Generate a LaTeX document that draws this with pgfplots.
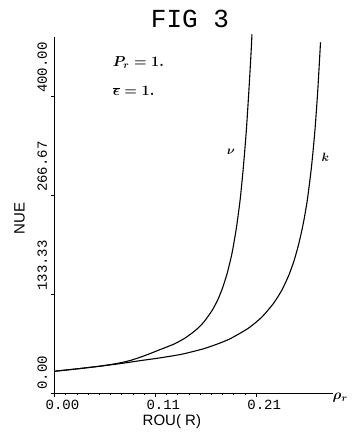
\documentclass[border=0pt]{standalone}
\usepackage{pgfplots}
\pgfplotsset{compat=1.18}
\usepackage{fontspec}
\setmainfont{Liberation Sans}
\setmonofont{Liberation Mono}
\begin{document}
\begin{tikzpicture}
\begin{axis}[
  scale only axis,
  width=278.5pt, height=356.3pt,
  xmin=0, xmax=0.29, ymin=0, ymax=480,
  axis lines=left,
  axis line style={-, line width=0.8pt},
  clip=false,
  enlargelimits=false,
  xtick={0,0.105,0.21},
  xticklabels={0.00,0.11,0.21},
  ytick={0,133.333,266.667,400},
  yticklabels={0.00,133.33,266.67,400.00},
  minor x tick num=8,
  minor y tick num=8,
  tick align=outside,
  major tick length=4pt,
  minor tick length=1.5pt,
  tick style={black, line width=0.6pt},
  xticklabel style={font=\ttfamily\fontsize{14}{14}\selectfont, anchor=north, xshift=8pt, yshift=1pt},
  yticklabel style={font=\ttfamily\fontsize{14}{14}\selectfont, rotate=90, anchor=south west, xshift=0pt},
]
% curve nu
\addplot[black, line width=1.1pt, smooth, tension=0.4] coordinates {
(0,29.7) (0.0240,33.0) (0.0470,36.5) (0.0606,39.2) (0.0716,41.9) (0.0799,44.6)
(0.0893,48.6) (0.0993,53.4) (0.1084,58.1) (0.1242,66.2) (0.1358,74.3) (0.1471,85.1)
(0.1554,95.9) (0.1637,110.8) (0.1699,125.6) (0.1750,141.9) (0.1799,162.1)
(0.1849,189.1) (0.1894,222.9) (0.1933,260.7) (0.1966,304.0) (0.1996,351.3)
(0.2023,405.3) (0.2047,459.3) (0.2056,483.7)
};
% curve k
\addplot[black, line width=1.1pt, smooth, tension=0.4] coordinates {
(0,29.7) (0.0240,33.0) (0.0470,36.5) (0.0679,39.9) (0.0888,43.9) (0.1097,47.7)
(0.1327,52.7) (0.1555,60.1) (0.1721,67.6) (0.1841,74.3) (0.2020,87.8) (0.2159,102.7)
(0.2283,121.6) (0.2368,139.2) (0.2441,159.4) (0.2497,179.7) (0.2546,202.7)
(0.2592,229.7) (0.2633,260.7) (0.2675,304.0) (0.2710,351.3) (0.2740,405.3) (0.2770,472.9)
};
\coordinate (bl) at (rel axis cs:0,0);
\node[font=\ttfamily\fontsize{26}{26}\selectfont] at (axis cs:0.141,504.6) {FIG 3};
\node[font=\fontsize{15}{15}\selectfont] at (axis cs:0.1222,-37.5) {ROU( R)};
\node[font=\fontsize{15}{15}\selectfont, rotate=90] at (axis cs:-0.0365,235.7) {NUE};
\node[anchor=west, inner sep=0pt, font=\fontsize{14}{14}\selectfont\boldmath] at (axis cs:0.0606,446) {$P_r = 1.$};
\node[anchor=west, inner sep=0pt, font=\fontsize{14}{14}\selectfont\boldmath] at (axis cs:0.0606,407) {$\overline{\epsilon} = 1.$};
\node[inner sep=0pt, font=\fontsize{13}{13}\selectfont\boldmath] at (axis cs:0.1839,325.2) {$\nu$};
\node[inner sep=0pt, font=\fontsize{13}{13}\selectfont\boldmath] at (axis cs:0.2821,318.4) {$k$};
\node[anchor=west, inner sep=0pt, font=\fontsize{14}{14}\selectfont\boldmath] at (axis cs:0.2895,-6) {$\rho_r$};
\end{axis}
\path (bl) ++(-54.5pt,-44.7pt) rectangle ++(357pt,438pt);
\end{tikzpicture}
\end{document}
